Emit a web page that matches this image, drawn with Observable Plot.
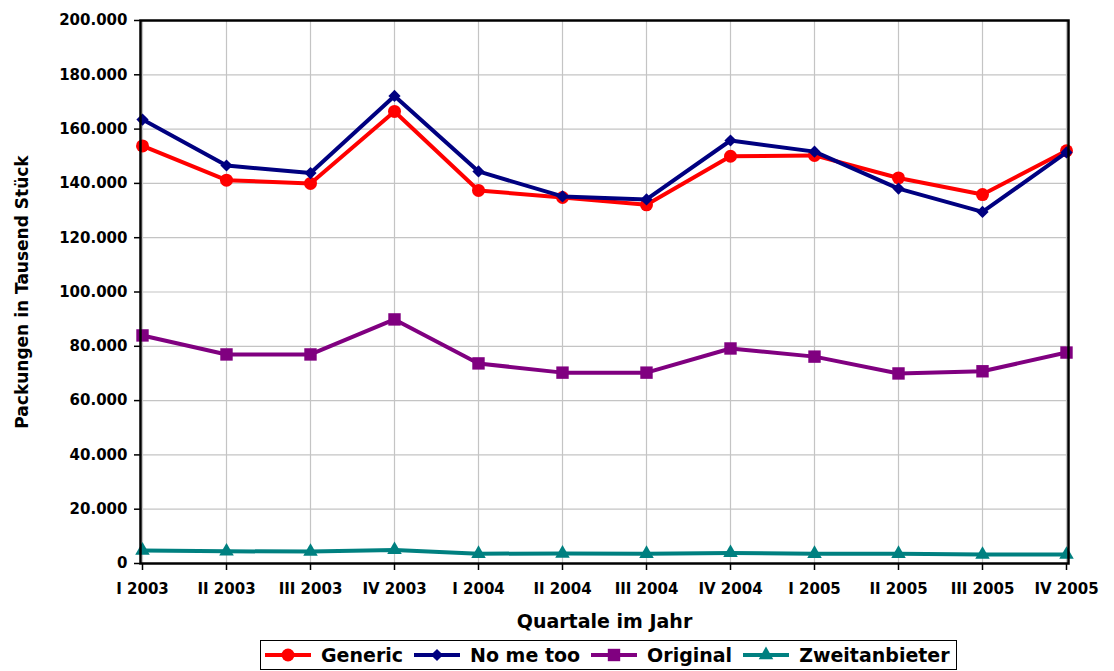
<!DOCTYPE html>
<html>
<head>
<meta charset="utf-8">
<script src="https://cdn.jsdelivr.net/npm/d3@7"></script>
<script src="https://cdn.jsdelivr.net/npm/@observablehq/plot@0.6"></script>
<style>
  html, body { margin: 0; padding: 0; background: #fff; }
  #wrap { position: relative; width: 1114px; height: 671px; }
  #legend { position: absolute; left: 260px; top: 640px; width: 695px; height: 28px;
    border: 1px solid #000; display: flex; align-items: center; box-sizing: content-box;
    font-family: "DejaVu Sans"; font-weight: bold; font-size: 19px; color: #000; }
  #legend .item { display: flex; align-items: center; margin-left: 3px; }
  #legend .item + .item { margin-left: 10px; }
  #legend svg { display: block; margin-right: 9px; }
</style>
</head>
<body>
<div id="wrap"><div id="chart"></div><div id="legend"></div></div>
<script>
const quarters = ["I 2003","II 2003","III 2003","IV 2003","I 2004","II 2004","III 2004","IV 2004","I 2005","II 2005","III 2005","IV 2005"];
const generic = [153800,141200,140000,166500,137400,134800,132100,150000,150300,142000,135900,152000];
const noMeToo = [163500,146600,143800,172200,144400,135200,134100,155800,151700,138100,129500,151400];
const original = [84000,77000,77000,89900,73700,70300,70300,79200,76200,70000,70800,77700];
const zweitanbieter = [4800,4500,4400,5000,3600,3700,3600,3900,3600,3600,3300,3300];
const seriesNames = ["Generic","No me too","Original","Zweitanbieter"];
const seriesValues = [generic, noMeToo, original, zweitanbieter];
const seriesColors = ["#ff0000","#000080","#800080","#008080"];
const seriesSymbols = ["circle","diamond2","square","triangle"];
const seriesRadius = [6.5, 5.5, 7, 5.4];
const yTicks = [0,20000,40000,60000,80000,100000,120000,140000,160000,180000,200000];
const xTitle = "Quartale im Jahr";
const yTitle = "Packungen in Tausend Stück";

const fmt = d => d3.format(",")(d).replace(/,/g, ".");

const seriesMarks = seriesNames.flatMap((name, i) => {
  const rows = quarters.map((q, j) => ({q, v: seriesValues[i][j], name}));
  return [
    Plot.line(rows, {x: "q", y: "v", stroke: seriesColors[i], strokeWidth: 4}),
    Plot.dot(rows, {x: "q", y: "v", fill: seriesColors[i], stroke: "none", symbol: seriesSymbols[i], r: seriesRadius[i]})
  ];
});

const chart = Plot.plot({
  width: 1114,
  height: 636,
  marginTop: 20,
  marginLeft: 140,
  marginRight: 46,
  marginBottom: 73,
  style: {fontFamily: "DejaVu Sans", fontWeight: "bold", fontSize: "15px", color: "#000", background: "#fff"},
  x: {type: "point", domain: quarters, padding: 0},
  y: {domain: [0, 200000]},
  marks: [
    Plot.gridX(quarters, {stroke: "#c4c4c4", strokeOpacity: 1, strokeWidth: 1.2}),
    Plot.gridY(yTicks, {stroke: "#c4c4c4", strokeOpacity: 1, strokeWidth: 1.2}),
    Plot.axisY(yTicks, {tickFormat: fmt, tickSize: 6, tickPadding: 7, label: null, stroke: "#000", strokeWidth: 1.5, fontSize: 15}),
    Plot.axisX(quarters, {tickSize: 7, tickPadding: 13, label: null, stroke: "#000", strokeWidth: 1.5, fontSize: 15}),
    Plot.text([xTitle], {frameAnchor: "bottom", lineAnchor: "middle", textAnchor: "middle", dy: 58, fontSize: 19, fontWeight: "bold", fill: "#000"}),
    Plot.text([yTitle], {frameAnchor: "left", lineAnchor: "middle", textAnchor: "middle", dx: -118, rotate: -90, fontSize: 17, fontWeight: "bold", fill: "#000"}),
    ...seriesMarks,
    Plot.frame({stroke: "#000", strokeWidth: 2.5})
  ]
});
document.getElementById("chart").appendChild(chart);

// Legend
const legend = d3.select("#legend");
const symbolMap = {circle: d3.symbolCircle, diamond2: d3.symbolDiamond2, square: d3.symbolSquare, triangle: d3.symbolTriangle};
seriesNames.forEach((name, i) => {
  const item = legend.append("div").attr("class", "item");
  const sw = item.append("svg").attr("width", 48).attr("height", 20);
  sw.append("line").attr("x1", 1).attr("x2", 47).attr("y1", 10).attr("y2", 10)
    .attr("stroke", seriesColors[i]).attr("stroke-width", 4);
  const r = seriesRadius[i];
  sw.append("path").attr("transform", "translate(24,10)")
    .attr("d", d3.symbol(symbolMap[seriesSymbols[i]], r * r * Math.PI)())
    .attr("fill", seriesColors[i]);
  item.append("span").text(name);
});
</script>
</body>
</html>
